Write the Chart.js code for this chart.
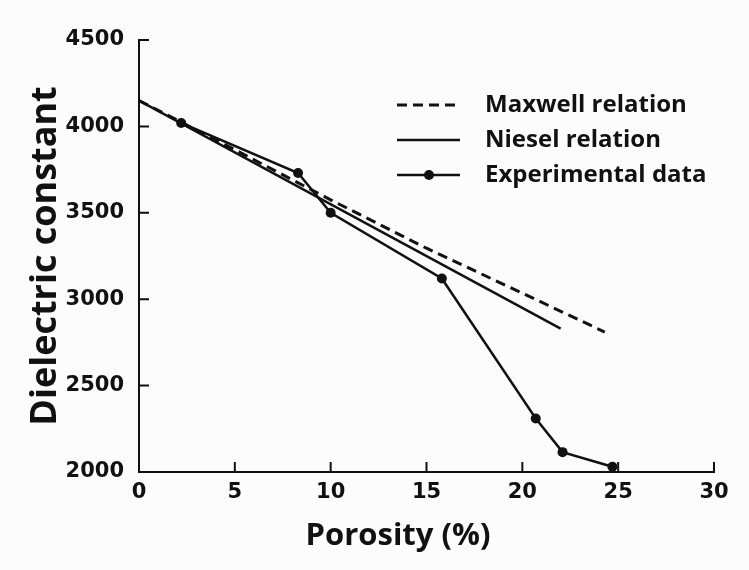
<!DOCTYPE html>
<html>
<head>
<meta charset="utf-8">
<script src="https://cdn.jsdelivr.net/npm/chart.js@4.4.1/dist/chart.umd.min.js"></script>
<style>
  html, body { margin: 0; padding: 0; background: #fcfcfc; }
  #wrap { width: 749px; height: 570px; }
</style>
</head>
<body>
<div id="wrap"><canvas id="chart"></canvas></div>
<script>
// porosity (%) vs dielectric constant
const maxwellPorosity = [0, 5, 10, 15, 20, 24.3];
const maxwellDielectric = [4150, 3865, 3575, 3295, 3035, 2810];
const nieselPorosity = [0, 22];
const nieselDielectric = [4150, 2830];
const expPorosity = [2.2, 8.3, 10.0, 15.8, 20.7, 22.1, 24.7];
const expDielectric = [4020, 3730, 3500, 3120, 2310, 2115, 2030];
const xTickValues = [0, 5, 10, 15, 20, 25, 30];
const yTickValues = [2000, 2500, 3000, 3500, 4000, 4500];

const toPoints = (xs, ys) => xs.map((x, i) => ({ x: x, y: ys[i] }));

const INK = "#111";
const tickFont = { family: "DejaVu Sans", size: 21, weight: "bold" };

// small inward tick marks, legend inside the plot and the x title
const decorations = {
    id: "decorations",
    afterDraw(chart) {
        const ctx = chart.ctx;
        const xs = chart.scales.x;
        const ys = chart.scales.y;
        const area = chart.chartArea;
        ctx.save();
        ctx.strokeStyle = INK;
        ctx.lineWidth = 2;
        ctx.beginPath();
        yTickValues.forEach(v => {
            const py = ys.getPixelForValue(v);
            ctx.moveTo(area.left, py);
            ctx.lineTo(area.left + 10, py);
        });
        xTickValues.forEach(v => {
            const px = xs.getPixelForValue(v);
            ctx.moveTo(px, area.bottom);
            ctx.lineTo(px, area.bottom - 10);
        });
        ctx.stroke();

        // legend
        const rows = [105, 140, 175];
        chart.data.datasets.forEach((ds, i) => {
            const y = rows[i];
            ctx.strokeStyle = INK;
            ctx.lineWidth = ds.borderWidth;
            ctx.setLineDash(ds.borderDash || []);
            ctx.beginPath();
            ctx.moveTo(397, y);
            ctx.lineTo(460, y);
            ctx.stroke();
            ctx.setLineDash([]);
            if (ds.pointRadius > 0) {
                ctx.fillStyle = INK;
                ctx.beginPath();
                ctx.arc(429, y, ds.pointRadius, 0, Math.PI * 2);
                ctx.fill();
            }
            ctx.fillStyle = INK;
            ctx.font = "bold 24px 'Open Sans'";
            ctx.textBaseline = "middle";
            ctx.textAlign = "left";
            ctx.fillText(ds.label, 485, y);
        });

        ctx.font = "bold 31px 'Open Sans'";
        ctx.textAlign = "center";
        ctx.textBaseline = "middle";
        ctx.fillText("Porosity (%)", 398, 536);
        ctx.restore();
    }
};

const ctx = document.getElementById("chart").getContext("2d");
new Chart(ctx, {
    type: "line",
    data: {
        datasets: [{
            label: "Maxwell relation",
            data: toPoints(maxwellPorosity, maxwellDielectric),
            borderColor: INK,
            borderWidth: 3,
            borderDash: [10, 6],
            pointRadius: 0,
            tension: 0
        }, {
            label: "Niesel relation",
            data: toPoints(nieselPorosity, nieselDielectric),
            borderColor: INK,
            borderWidth: 2.5,
            pointRadius: 0,
            tension: 0
        }, {
            label: "Experimental data",
            data: toPoints(expPorosity, expDielectric),
            borderColor: INK,
            backgroundColor: INK,
            borderWidth: 2.5,
            pointRadius: 5,
            pointBackgroundColor: INK,
            pointBorderWidth: 0,
            tension: 0
        }]
    },
    options: {
        responsive: true,
        maintainAspectRatio: false,
        animation: false,
        layout: {
            padding: { left: 0, right: 35, top: 40, bottom: 0 }
        },
        plugins: {
            legend: { display: false },
            tooltip: { enabled: false }
        },
        scales: {
            x: {
                type: "linear",
                min: 0,
                max: 30,
                afterBuildTicks: s => { s.ticks = xTickValues.map(v => ({ value: v })); },
                afterFit: s => { s.height = 98; },
                grid: { display: false, drawTicks: false },
                border: { display: true, color: INK, width: 2 },
                ticks: { color: INK, font: tickFont, padding: 8, maxRotation: 0, callback: v => String(v) }
            },
            y: {
                type: "linear",
                min: 2000,
                max: 4500,
                afterBuildTicks: s => { s.ticks = yTickValues.map(v => ({ value: v })); },
                afterFit: s => { s.width = 139; },
                grid: { display: false, drawTicks: false },
                border: { display: true, color: INK, width: 2 },
                ticks: { color: INK, font: tickFont, padding: 15, callback: v => String(v) },
                title: {
                    display: true,
                    text: "Dielectric constant",
                    color: INK,
                    font: { family: "Open Sans", size: 36, weight: "bold" },
                    padding: { top: 24, bottom: 0 }
                }
            }
        }
    },
    plugins: [decorations]
});
</script>
</body>
</html>
